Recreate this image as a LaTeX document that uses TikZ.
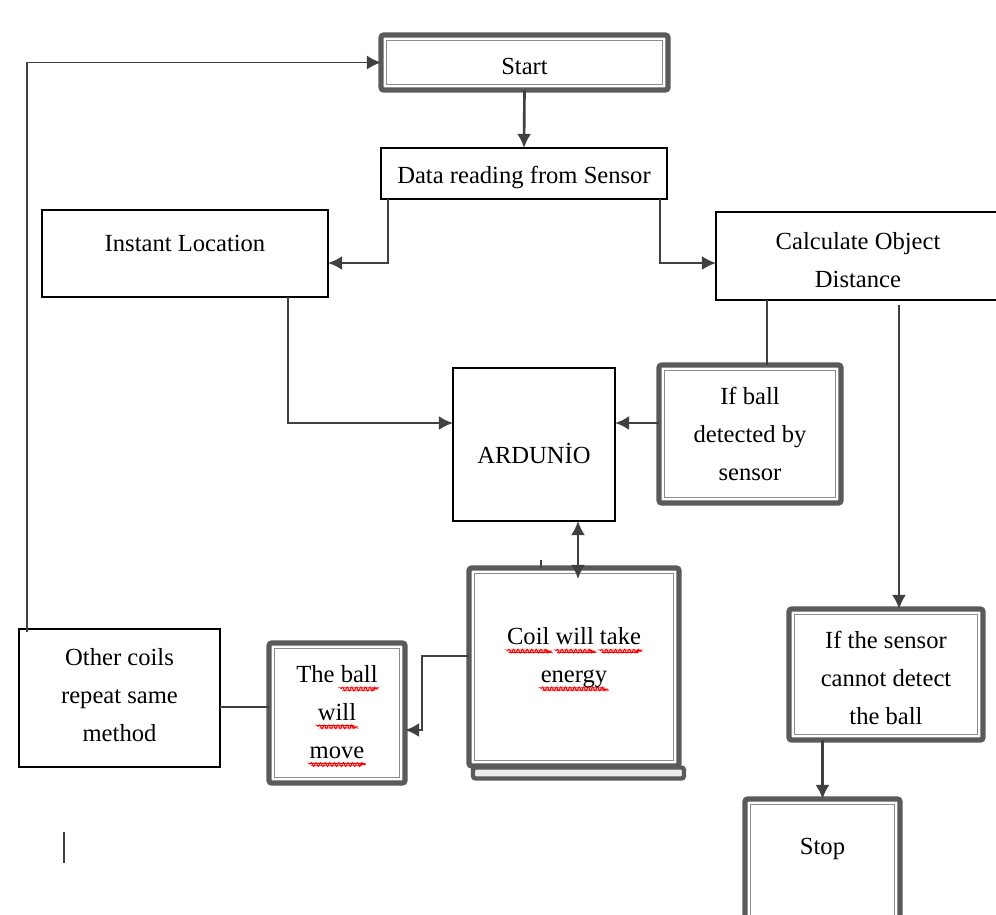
\documentclass[tikz,border=0pt]{standalone}
\usepackage{fontspec}
\setmainfont{Liberation Serif}
\usepackage{xcolor}
\usepackage{tikz}
\usetikzlibrary{shapes,arrows.meta,positioning,decorations.pathmorphing}

\definecolor{linegray}{HTML}{404040}
\definecolor{framegray}{HTML}{5A5A5A}
\definecolor{innergray}{HTML}{8C8C8C}

% red wavy line of the spell checker
\newsavebox\spellbox
\newcommand\spellwave[1]{\sbox\spellbox{#1}\rlap{\tikz[baseline=0pt]\draw[red, line width=0.45pt, decorate, decoration={snake, amplitude=0.7pt, segment length=2.6pt}] (0pt,-3.6pt) -- (\wd\spellbox,-3.6pt);}\usebox\spellbox}
% struts to move text in a box up or down
\newcommand\padtop[1]{\rule{0pt}{#1}}
\newcommand\padbot[1]{\rule[-#1]{0pt}{0pt}}

\begin{document}
\begin{tikzpicture}[
    x=0.02cm, y=-0.02cm,
    every node/.style={font=\fontsize{14}{21.5}\selectfont, inner sep=0pt, outer sep=0pt},
    plainbox/.style={rectangle, draw=black, line width=1.1pt, align=center},
    framebox/.style={rectangle, draw=framegray, line width=3pt, rounded corners=1.5pt, align=center},
    link/.style={draw=linegray, line width=1.5pt},
    arr/.style={link, -{Latex[length=8pt,width=8pt]}},
    dblarr/.style={link, {Latex[length=8pt,width=8pt]}-{Latex[length=8pt,width=8pt]}}
]
\path[use as bounding box, clip] (0,0) rectangle (996,914);

\node[framebox, minimum width=5.74cm, minimum height=1.10cm, text height=14pt] (start) at (524.5,62.5) {Start};
\node[plainbox, minimum width=5.72cm, minimum height=1.02cm, text height=14pt] (data) at (524,173.5) {Data reading from Sensor};
\node[plainbox, minimum width=5.72cm, minimum height=1.74cm, text depth=12pt] (inst) at (185,253.5) {Instant Location};
\node[plainbox, minimum width=5.68cm, minimum height=1.76cm] (calc) at (858,256) {\padtop{14pt}Calculate Object\\Distance};
\node[plainbox, minimum width=3.24cm, minimum height=3.06cm, text height=22pt] (ard) at (534,444.5) {ARDUNİO};
\node[framebox, minimum width=3.64cm, minimum height=2.76cm] (ifball) at (750,434) {If ball\\detected by\\sensor};
\node[framebox, minimum width=3.88cm, minimum height=2.62cm] (nodetect) at (886,674.5) {\padtop{13.6pt}If the sensor\\cannot detect\\the ball};
\node[framebox, minimum width=3.10cm, minimum height=3.02cm, text depth=32pt] (stop) at (822.5,874.5) {Stop};
\node[framebox, line width=2.5pt, fill=gray!15, minimum width=4.22cm, minimum height=0.22cm] (coilbase) at (578.5,773) {};
\node[framebox, fill=white, minimum width=4.20cm, minimum height=3.96cm] (coil) at (574,667) {\spellwave{Coil} \spellwave{will} \spellwave{take}\\\spellwave{energy}\padbot{13.5pt}};
\node[framebox, minimum width=2.72cm, minimum height=2.80cm] (ball) at (337,713) {\padtop{13pt}The \spellwave{ball}\\\spellwave{will}\\\spellwave{move}};
\node[plainbox, minimum width=4.02cm, minimum height=2.76cm] (other) at (119.5,698) {Other coils\\repeat same\\method\padbot{3.4pt}};

% thin inner line of the framed boxes
\foreach \n in {start,ifball,nodetect,stop,coil,ball}
  \draw[draw=innergray, line width=0.8pt] ([shift={(3.2pt,-3.2pt)}]\n.north west) rectangle ([shift={(-3.2pt,3.2pt)}]\n.south east);

\draw[arr] (start.south) -- (data.north);
\draw[arr] ([xshift=0.14cm]data.south west) |- ([yshift=-0.19cm]inst.east);
\draw[arr] ([xshift=-0.14cm]data.south east) |- ([yshift=-0.14cm]calc.west);
\draw[arr] ([xshift=-0.8cm]inst.south east) |- ([yshift=0.43cm]ard.west);
\draw[link] ([xshift=0.34cm]ifball.north) -- ([xshift=0.34cm]ifball.north |- calc.south);
\draw[arr] ([yshift=0.22cm]ifball.west) -- ([yshift=0.22cm]ifball.west -| ard.east);
\draw[arr] ([xshift=0.26cm,yshift=-0.1cm]nodetect.north |- calc.south) -- ([xshift=0.26cm]nodetect.north);
\draw[arr] (stop.north |- nodetect.south) -- (stop.north);
\draw[dblarr] ([xshift=0.88cm]ard.south) -- ([xshift=0.88cm,yshift=-0.22cm]ard.south |- coil.north);
\draw[link] ([xshift=-0.66cm]coil.north) -- ++(0,-8);
\draw[arr] ([yshift=0.22cm]coil.west) -- ++(-47,0) |- ([yshift=-0.34cm]ball.east);
\draw[link] ([yshift=0.12cm]ball.west) -- ([yshift=0.12cm]ball.west -| other.east);
\draw[arr, line width=1.1pt] ([xshift=0.16cm,yshift=-0.06cm]other.north west) |- (start.west);
\draw[linegray, line width=0.6pt] (64,832) -- (64,863);
\end{tikzpicture}
\end{document}
